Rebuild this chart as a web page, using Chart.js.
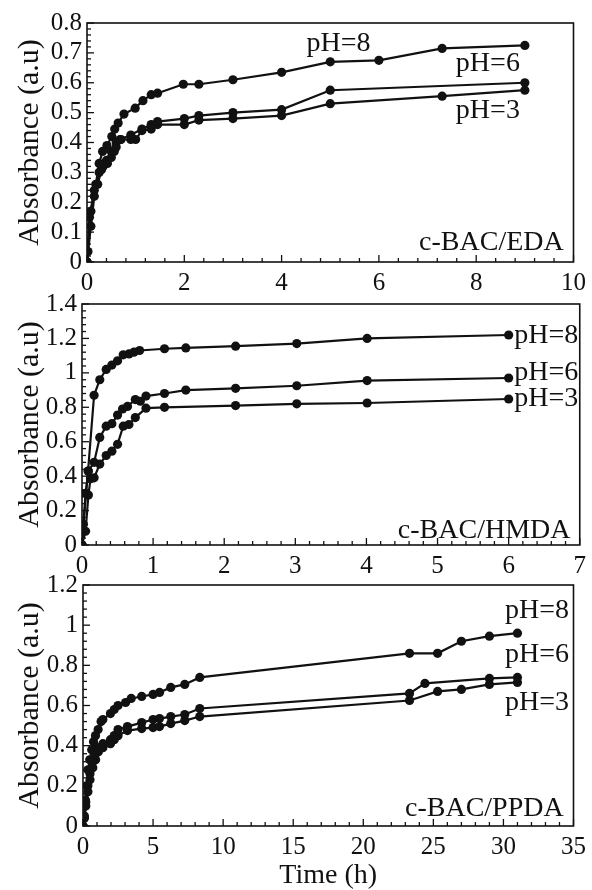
<!DOCTYPE html>
<html>
<head>
<meta charset="utf-8">
<script src="https://cdn.jsdelivr.net/npm/chart.js@4.4.0/dist/chart.umd.min.js"></script>
<style>
  html, body { margin: 0; padding: 0; background: #ffffff; }
  body { width: 592px; height: 890px; position: relative; overflow: hidden; }
  canvas { position: absolute; left: 0; }
</style>
</head>
<body>
<canvas id="c1" width="592" height="300" style="top:0px"></canvas>
<canvas id="c2" width="592" height="310" style="top:280px"></canvas>
<canvas id="c3" width="592" height="330" style="top:560px"></canvas>
<script>
// ---------- Data: c-BAC/EDA ----------
const edaTime8 = [0, 0.02, 0.08, 0.18, 0.25, 0.32, 0.41, 0.51, 0.57, 0.64, 0.76, 0.99, 1.15, 1.32, 1.45, 1.98, 2.3, 3.0, 4.0, 5.0, 6.0, 7.3, 9.0];
const edaAbs8  = [0, 0.035, 0.17, 0.26, 0.33, 0.37, 0.39, 0.42, 0.445, 0.465, 0.495, 0.515, 0.54, 0.56, 0.565, 0.595, 0.595, 0.61, 0.635, 0.67, 0.675, 0.715, 0.725];
const edaTime6 = [0, 0.05, 0.15, 0.25, 0.33, 0.42, 0.5, 0.56, 0.6, 0.68, 0.9, 1.13, 1.32, 1.45, 2.0, 2.3, 3.0, 4.0, 5.0, 9.0];
const edaAbs6  = [0, 0.15, 0.24, 0.30, 0.32, 0.33, 0.35, 0.37, 0.385, 0.41, 0.425, 0.445, 0.46, 0.47, 0.48, 0.49, 0.50, 0.51, 0.575, 0.60];
const edaTime3 = [0, 0.08, 0.15, 0.22, 0.3, 0.4, 0.5, 0.6, 0.7, 0.9, 1.0, 1.13, 1.32, 1.45, 2.0, 2.3, 3.0, 4.0, 5.0, 7.3, 9.0];
const edaAbs3  = [0, 0.12, 0.22, 0.26, 0.31, 0.34, 0.37, 0.40, 0.41, 0.41, 0.41, 0.44, 0.445, 0.46, 0.46, 0.475, 0.48, 0.49, 0.53, 0.555, 0.575];

// ---------- Data: c-BAC/HMDA ----------
const hmdaTime8 = [0, 0.02, 0.085, 0.17, 0.25, 0.34, 0.42, 0.5, 0.58, 0.66, 0.73, 0.81, 1.16, 1.46, 2.16, 3.02, 4.01, 6.0];
const hmdaAbs8  = [0, 0.12, 0.43, 0.87, 0.96, 1.02, 1.045, 1.07, 1.105, 1.11, 1.12, 1.13, 1.14, 1.145, 1.155, 1.17, 1.20, 1.22];
const hmdaTime6 = [0, 0.05, 0.09, 0.17, 0.25, 0.34, 0.42, 0.5, 0.57, 0.64, 0.75, 0.82, 0.9, 1.16, 1.46, 2.16, 3.02, 4.01, 6.0];
const hmdaAbs6  = [0, 0.30, 0.43, 0.48, 0.625, 0.69, 0.705, 0.755, 0.79, 0.805, 0.845, 0.835, 0.865, 0.88, 0.90, 0.91, 0.925, 0.955, 0.97];
const hmdaTime3 = [0, 0.05, 0.09, 0.12, 0.17, 0.25, 0.34, 0.42, 0.5, 0.58, 0.66, 0.75, 0.9, 1.16, 2.16, 3.02, 4.01, 6.0];
const hmdaAbs3  = [0, 0.08, 0.29, 0.385, 0.39, 0.47, 0.52, 0.545, 0.585, 0.69, 0.70, 0.74, 0.795, 0.80, 0.81, 0.82, 0.825, 0.848];

// ---------- Data: c-BAC/PPDA ----------
const ppdaTime8 = [0, 0.08, 0.17, 0.25, 0.35, 0.48, 0.62, 0.75, 0.89, 1.08, 1.29, 1.42, 1.96, 2.23, 2.5, 3.04, 3.44, 4.19, 5.0, 5.46, 6.26, 7.26, 8.33, 23.3, 25.3, 27.0, 29.0, 31.0];
const ppdaAbs8  = [0, 0.04, 0.13, 0.20, 0.28, 0.33, 0.38, 0.42, 0.45, 0.48, 0.52, 0.53, 0.56, 0.58, 0.60, 0.615, 0.635, 0.645, 0.655, 0.665, 0.69, 0.705, 0.74, 0.86, 0.86, 0.92, 0.945, 0.96];
const ppdaTime6 = [0, 0.1, 0.2, 0.35, 0.5, 0.7, 0.9, 1.1, 1.42, 1.96, 2.23, 2.5, 3.17, 4.19, 5.0, 5.46, 6.26, 7.26, 8.33, 23.3, 24.4, 29.0, 31.0];
const ppdaAbs6  = [0, 0.05, 0.12, 0.20, 0.26, 0.32, 0.36, 0.39, 0.41, 0.43, 0.45, 0.48, 0.495, 0.515, 0.53, 0.535, 0.545, 0.555, 0.585, 0.66, 0.71, 0.735, 0.74];
const ppdaTime3 = [0, 0.1, 0.2, 0.35, 0.5, 0.7, 0.9, 1.1, 1.42, 1.96, 2.23, 2.5, 3.17, 4.19, 5.0, 5.46, 6.26, 7.26, 8.33, 23.3, 25.3, 27.0, 29.0, 31.0];
const ppdaAbs3  = [0, 0.04, 0.10, 0.17, 0.23, 0.29, 0.33, 0.37, 0.39, 0.41, 0.43, 0.45, 0.475, 0.485, 0.49, 0.495, 0.51, 0.525, 0.545, 0.625, 0.67, 0.68, 0.705, 0.715];

// ---------- Text ----------
const yTitle = 'Absorbance (a.u)';
const xTitle = 'Time (h)';
const seriesNames = ['pH=8', 'pH=6', 'pH=3'];
const panelNames = ['c-BAC/EDA', 'c-BAC/HMDA', 'c-BAC/PPDA'];

const SERIF = '"Liberation Serif", "Times New Roman", "DejaVu Serif", serif';
Chart.defaults.font.family = SERIF;
Chart.defaults.color = '#111';

function pts(xs, ys) { return xs.map((x, i) => ({ x: x, y: ys[i] })); }
function fmt(v) { return String(parseFloat(Number(v).toFixed(3))); }

// Frame, inward minor/major ticks, and text annotations
const framePlugin = {
  id: 'frame',
  afterDraw(chart, args, opts) {
    const ctx = chart.ctx;
    const a = chart.chartArea;
    const xs = chart.scales.x, ys = chart.scales.y;
    ctx.save();
    ctx.strokeStyle = '#111';
    ctx.lineWidth = 1.6;
    ctx.strokeRect(a.left, a.top, a.right - a.left, a.bottom - a.top);
    ctx.lineWidth = 1.3;
    const nx = Math.round((xs.max - xs.min) / opts.xMinor);
    for (let i = 0; i <= nx; i++) {
      const v = xs.min + i * opts.xMinor;
      const px = xs.getPixelForValue(v);
      const major = Math.abs(v / opts.xMajor - Math.round(v / opts.xMajor)) < 1e-6;
      const len = major ? 7 : 4;
      ctx.beginPath(); ctx.moveTo(px, a.bottom); ctx.lineTo(px, a.bottom - len); ctx.stroke();
    }
    const ny = Math.round((ys.max - ys.min) / opts.yMinor);
    for (let i = 0; i <= ny; i++) {
      const v = ys.min + i * opts.yMinor;
      const py = ys.getPixelForValue(v);
      const major = Math.abs(v / opts.yMajor - Math.round(v / opts.yMajor)) < 1e-6;
      const len = major ? 7 : 4;
      ctx.beginPath(); ctx.moveTo(a.left, py); ctx.lineTo(a.left + len, py); ctx.stroke();
    }
    ctx.fillStyle = '#111';
    ctx.textBaseline = 'middle';
    ctx.font = '28px ' + SERIF;
    opts.labels.forEach(l => {
      ctx.textAlign = l.align;
      ctx.fillText(l.text, xs.getPixelForValue(l.x), ys.getPixelForValue(l.y));
    });
    ctx.restore();
  }
};

function makeChart(id, cfg) {
  const ds = cfg.series.map((s, i) => ({
    label: seriesNames[i],
    data: pts(s[0], s[1]),
    borderColor: '#111',
    backgroundColor: '#111',
    borderWidth: 2.2,
    pointRadius: 4.6,
    pointHoverRadius: 4.6,
    pointBorderWidth: 0,
    tension: 0,
    fill: false
  }));
  return new Chart(document.getElementById(id), {
    type: 'line',
    data: { datasets: ds },
    plugins: [framePlugin],
    options: {
      responsive: false,
      animation: false,
      devicePixelRatio: 1,
      layout: { padding: { top: cfg.padTop, right: cfg.padRight, bottom: 0, left: 0 } },
      plugins: {
        legend: { display: false },
        tooltip: { enabled: false },
        frame: { xMinor: cfg.xMinor, xMajor: cfg.xStep, yMinor: cfg.yMinor, yMajor: cfg.yStep, labels: cfg.labels }
      },
      scales: {
        x: {
          type: 'linear',
          min: 0, max: cfg.xMax,
          grid: { display: false, drawTicks: false },
          border: { display: false },
          ticks: { stepSize: cfg.xStep, autoSkip: false, padding: 6, font: { size: 25 }, color: '#111', maxRotation: 0, callback: fmt },
          title: cfg.xTitle ? { display: true, text: xTitle, font: { size: 28, lineHeight: 1.0 }, color: '#111', padding: { top: 0, bottom: 0 } } : { display: false },
          afterFit(s) { s.height = cfg.xHeight; }
        },
        y: {
          min: 0, max: cfg.yMax,
          grid: { display: false, drawTicks: false },
          border: { display: false },
          ticks: { stepSize: cfg.yStep, autoSkip: false, padding: 5, font: { size: 25, lineHeight: 1.0 }, color: '#111', callback: fmt },
          title: { display: true, text: yTitle, font: { size: 30, lineHeight: 1.2 }, color: '#111', padding: { top: 12, bottom: 0 } },
          afterFit(s) { s.width = cfg.yWidth; }
        }
      }
    }
  });
}

makeChart('c1', {
  series: [[edaTime8, edaAbs8], [edaTime6, edaAbs6], [edaTime3, edaAbs3]],
  xMax: 10, xStep: 2, xMinor: 0.4,
  yMax: 0.8, yStep: 0.1, yMinor: 0.02,
  padTop: 23, padRight: 11, yWidth: 87, xHeight: 38,
  labels: [
    { text: seriesNames[0], x: 5.17, y: 0.73, align: 'center' },
    { text: seriesNames[1], x: 8.24, y: 0.663, align: 'center' },
    { text: seriesNames[2], x: 8.24, y: 0.506, align: 'center' },
    { text: panelNames[0], x: 9.8, y: 0.064, align: 'right' }
  ]
});

makeChart('c2', {
  series: [[hmdaTime8, hmdaAbs8], [hmdaTime6, hmdaAbs6], [hmdaTime3, hmdaAbs3]],
  xMax: 7, xStep: 1, xMinor: 0.2,
  yMax: 1.4, yStep: 0.2, yMinor: 0.04,
  padTop: 24, padRight: 12, yWidth: 82, xHeight: 45,
  labels: [
    { text: seriesNames[0], x: 6.08, y: 1.215, align: 'left' },
    { text: seriesNames[1], x: 6.08, y: 1.0, align: 'left' },
    { text: seriesNames[2], x: 6.08, y: 0.848, align: 'left' },
    { text: panelNames[1], x: 6.87, y: 0.086, align: 'right' }
  ]
});

makeChart('c3', {
  series: [[ppdaTime8, ppdaAbs8], [ppdaTime6, ppdaAbs6], [ppdaTime3, ppdaAbs3]],
  xMax: 35, xStep: 5, xMinor: 1,
  yMax: 1.2, yStep: 0.2, yMinor: 0.04,
  padTop: 25, padRight: 14, yWidth: 83, xHeight: 64, xTitle: true,
  labels: [
    { text: seriesNames[0], x: 32.4, y: 1.07, align: 'center' },
    { text: seriesNames[1], x: 32.4, y: 0.855, align: 'center' },
    { text: seriesNames[2], x: 32.4, y: 0.613, align: 'center' },
    { text: panelNames[2], x: 34.3, y: 0.088, align: 'right' }
  ]
});
</script>
</body>
</html>
